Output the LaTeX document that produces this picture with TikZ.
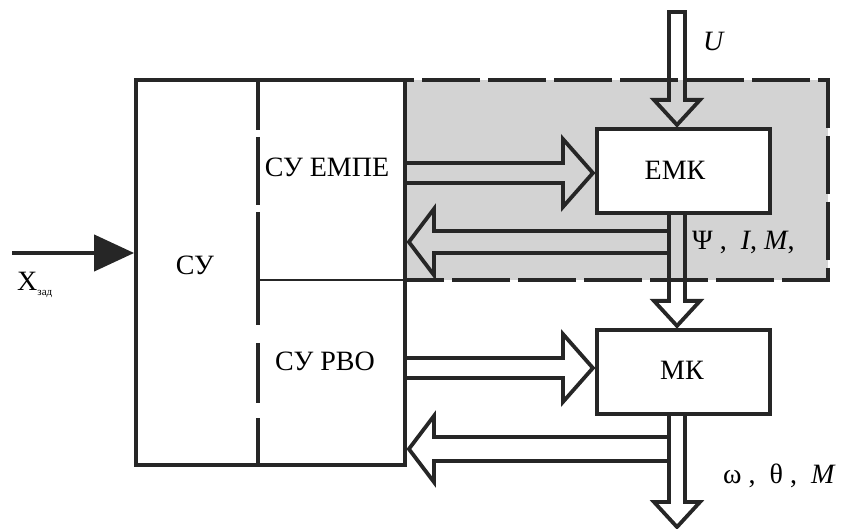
\documentclass[tikz,border=0pt]{standalone}
\usepackage{fontspec}
\setmainfont{Liberation Serif}
\usetikzlibrary{calc,arrows.meta}
\definecolor{ink}{RGB}{38,38,38}
\definecolor{regiongray}{RGB}{211,211,211}
\tikzset{
  frame/.style={draw=ink, line width=3.8pt},
  blockbox/.style={draw=ink, line width=4.2pt, fill=white, inner sep=0pt},
  hollow/.style={draw=ink, line width=3.8pt, line join=miter, miter limit=10},
  dashframe/.style={draw=ink, line width=3.8pt, dash pattern=on 58pt off 8pt, dash phase=49pt},
  lbl/.style={font=\fontsize{28}{30}\selectfont, inner sep=0pt},
  mlbl/.style={font=\fontsize{28}{30}\selectfont, inner sep=0pt},
}
% horizontal hollow arrow: #1 tail, #2 tip, #3 head length (signed), #4 shaft half width, #5 head half width
\newcommand\hollowH[5]{%
  \draw[hollow] ($(#1)+(0,-#4)$) -- ($(#2)+(#3,-#4)$) -- ($(#2)+(#3,-#5)$) -- (#2)
     -- ($(#2)+(#3,#5)$) -- ($(#2)+(#3,#4)$) -- ($(#1)+(0,#4)$);}
% vertical hollow arrow (downwards)
\newcommand\hollowV[5]{%
  \draw[hollow] ($(#1)+(-#4,0)$) -- ($(#2)+(-#4,-#3)$) -- ($(#2)+(-#5,-#3)$) -- (#2)
     -- ($(#2)+(#5,-#3)$) -- ($(#2)+(#4,-#3)$) -- ($(#1)+(#4,0)$);}
\begin{document}
\begin{tikzpicture}[x=1pt,y=-1pt]
\useasboundingbox (0,0) rectangle (849,529);
% shaded (dashed) region
\fill[regiongray] (405,80) rectangle (828,280);
\draw[dashframe] (405,80) -- (828,80) -- (828,280) -- (405,280);
% outer control block
\node[frame, minimum width=269pt, minimum height=385pt, inner sep=0pt] (su) at (270.5,272.5) {};
% inner dashed divider and horizontal divider
\draw[draw=ink, line width=3.3pt] (258,80) -- (258,130) (258,137) -- (258,205) (258,212) -- (258,325)
   (258,343) -- (258,403) (258,418) -- (258,465);
\draw[draw=ink, line width=2.5pt] (258,280) -- (405,280);
% blocks
\node[blockbox, minimum width=173pt, minimum height=84pt] (emk) at (683.5,171) {};
\node[blockbox, minimum width=173pt, minimum height=84pt] (mk) at (683.5,372) {};
% labels
\node[lbl] (sul) at (195,265) {СУ};
\node[lbl] (emp) at (327,167) {СУ ЕМПЕ};
\node[lbl] (rvo) at (325,361) {СУ РВО};
\node[lbl] (emkl) at (675,170) {ЕМК};
\node[lbl] (mkl) at (682,370) {МК};
\node[mlbl] (ul) at (714,41) {\textit{U}};
\node[mlbl, anchor=west] (psil) at (692,242) {Ψ , \ \textit{I}, \textit{M},};
\node[mlbl, anchor=west] (oml) at (723,476) {ω\ , \ θ\ , \ \textit{M}};
\node[lbl, anchor=west] (xl) at (17,285) {X\raisebox{-5pt}{\fontsize{11}{12}\selectfont зад}};
% input arrow
\coordinate (xin) at (12,253);
\draw[draw=ink, line width=4.2pt, -{Triangle[length=40pt,width=36pt]}] (xin) -- (xin -| su.west);
% coordinates of hollow arrows
\coordinate (utop) at (677,12);
\coordinate (utip) at ($(emk.north -| utop)+(0,-2)$);
\coordinate (mtail) at (emk.south -| utop);
\coordinate (mtip) at ($(mk.north -| utop)+(0,-2)$);
\coordinate (otail) at (mk.south -| utop);
\coordinate (otip) at (677,527);
\coordinate (f1tip) at ($(emk.west)+(-2,2)$);
\coordinate (f1tail) at (f1tip -| su.east);
\coordinate (b1tail) at (669,242);
\coordinate (b1tip) at ($(b1tail -| su.east)+(2,0)$);
\coordinate (f2tip) at ($(mk.west)+(-2,-4)$);
\coordinate (f2tail) at (f2tip -| su.east);
\coordinate (b2tail) at (669,449);
\coordinate (b2tip) at ($(b2tail -| su.east)+(2,0)$);
% U input (closed top)
\draw[hollow] ($(utop)+(-8,0)$) -- ($(utip)+(-8,-25)$) -- ($(utip)+(-23,-25)$) -- (utip)
   -- ($(utip)+(23,-25)$) -- ($(utip)+(8,-25)$) -- ($(utop)+(8,0)$) -- cycle;
% vertical arrows
\hollowV{mtail}{mtip}{25}{8}{23}
\hollowV{otail}{otip}{25}{8}{23}
% horizontal arrows
\hollowH{f1tail}{f1tip}{-30}{10}{34}
\hollowH{b1tail}{b1tip}{25}{11}{33}
\hollowH{f2tail}{f2tip}{-30}{10}{34}
\hollowH{b2tail}{b2tip}{25}{12}{33}
\end{tikzpicture}
\end{document}
